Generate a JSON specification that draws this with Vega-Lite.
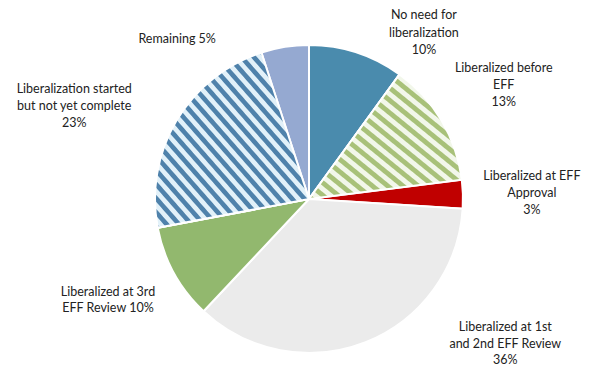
{
  "$schema": "https://vega.github.io/schema/vega-lite/v6.json",
  "width": 562,
  "height": 334,
  "autosize": "none",
  "padding": {"left": 28, "top": 32, "right": 0, "bottom": 0},
  "background": "white",
  "config": {"view": {"stroke": null}},
  "data": {
    "values": [
      {"category": "No need for liberalization", "label": "No need for\nliberalization\n10%", "value": 10, "order": 1},
      {"category": "Liberalized before EFF", "label": "Liberalized before\nEFF\n13%", "value": 13, "order": 2},
      {"category": "Liberalized at EFF Approval", "label": "Liberalized at EFF\nApproval\n3%", "value": 3, "order": 3},
      {"category": "Liberalized at 1st and 2nd EFF Review", "label": "Liberalized at 1st\nand 2nd EFF Review\n36%", "value": 36, "order": 4},
      {"category": "Liberalized at 3rd EFF Review", "label": "Liberalized at 3rd\nEFF Review 10%", "value": 10, "order": 5},
      {"category": "Liberalization started but not yet complete", "label": "Liberalization started\nbut not yet complete\n23%", "value": 23, "order": 6},
      {"category": "Remaining", "label": "Remaining 5%", "value": 5, "order": 7}
    ]
  },
  "transform": [
    {"stack": "value", "groupby": [], "sort": [{"field": "order", "order": "ascending"}], "as": ["s0", "s1"]},
    {"calculate": "(datum.s0 + datum.s1) / 2", "as": "mid"}
  ],
  "layer": [
    {
      "mark": {"type": "arc", "radius": 154, "stroke": "white", "strokeWidth": 2},
      "encoding": {
        "theta": {"field": "s0", "type": "quantitative", "scale": {"domain": [0, 100]}},
        "theta2": {"field": "s1"},
        "color": {
          "field": "category",
          "type": "nominal",
          "legend": null,
          "scale": {
            "domain": ["No need for liberalization", "Liberalized before EFF", "Liberalized at EFF Approval", "Liberalized at 1st and 2nd EFF Review", "Liberalized at 3rd EFF Review", "Liberalization started but not yet complete", "Remaining"],
            "range": ["#4a8bad", "#d3e0b6", "#c00000", "#ebebeb", "#92b86e", "#93b7cf", "#95a9d1"]
          }
        }
      }
    },
    {
      "transform": [{"filter": "datum.order == 2"}],
      "mark": {
        "type": "arc", "radius": 154, "stroke": "white", "strokeWidth": 2,
        "fill": {
          "gradient": "linear", "x1": 0, "y1": 1, "x2": 1, "y2": 0,
          "stops": [
            {"offset": 0, "color": "#a8c179"}, {"offset": 0.02, "color": "#a8c179"}, {"offset": 0.025, "color": "#f2f7ea"}, {"offset": 0.045, "color": "#f2f7ea"},
            {"offset": 0.05, "color": "#a8c179"}, {"offset": 0.07, "color": "#a8c179"}, {"offset": 0.075, "color": "#f2f7ea"}, {"offset": 0.095, "color": "#f2f7ea"},
            {"offset": 0.1, "color": "#a8c179"}, {"offset": 0.12, "color": "#a8c179"}, {"offset": 0.125, "color": "#f2f7ea"}, {"offset": 0.145, "color": "#f2f7ea"},
            {"offset": 0.15, "color": "#a8c179"}, {"offset": 0.17, "color": "#a8c179"}, {"offset": 0.175, "color": "#f2f7ea"}, {"offset": 0.195, "color": "#f2f7ea"},
            {"offset": 0.2, "color": "#a8c179"}, {"offset": 0.22, "color": "#a8c179"}, {"offset": 0.225, "color": "#f2f7ea"}, {"offset": 0.245, "color": "#f2f7ea"},
            {"offset": 0.25, "color": "#a8c179"}, {"offset": 0.27, "color": "#a8c179"}, {"offset": 0.275, "color": "#f2f7ea"}, {"offset": 0.295, "color": "#f2f7ea"},
            {"offset": 0.3, "color": "#a8c179"}, {"offset": 0.32, "color": "#a8c179"}, {"offset": 0.325, "color": "#f2f7ea"}, {"offset": 0.345, "color": "#f2f7ea"},
            {"offset": 0.35, "color": "#a8c179"}, {"offset": 0.37, "color": "#a8c179"}, {"offset": 0.375, "color": "#f2f7ea"}, {"offset": 0.395, "color": "#f2f7ea"},
            {"offset": 0.4, "color": "#a8c179"}, {"offset": 0.42, "color": "#a8c179"}, {"offset": 0.425, "color": "#f2f7ea"}, {"offset": 0.445, "color": "#f2f7ea"},
            {"offset": 0.45, "color": "#a8c179"}, {"offset": 0.47, "color": "#a8c179"}, {"offset": 0.475, "color": "#f2f7ea"}, {"offset": 0.495, "color": "#f2f7ea"},
            {"offset": 0.5, "color": "#a8c179"}, {"offset": 0.52, "color": "#a8c179"}, {"offset": 0.525, "color": "#f2f7ea"}, {"offset": 0.545, "color": "#f2f7ea"},
            {"offset": 0.55, "color": "#a8c179"}, {"offset": 0.57, "color": "#a8c179"}, {"offset": 0.575, "color": "#f2f7ea"}, {"offset": 0.595, "color": "#f2f7ea"},
            {"offset": 0.6, "color": "#a8c179"}, {"offset": 0.62, "color": "#a8c179"}, {"offset": 0.625, "color": "#f2f7ea"}, {"offset": 0.645, "color": "#f2f7ea"},
            {"offset": 0.65, "color": "#a8c179"}, {"offset": 0.67, "color": "#a8c179"}, {"offset": 0.675, "color": "#f2f7ea"}, {"offset": 0.695, "color": "#f2f7ea"},
            {"offset": 0.7, "color": "#a8c179"}, {"offset": 0.72, "color": "#a8c179"}, {"offset": 0.725, "color": "#f2f7ea"}, {"offset": 0.745, "color": "#f2f7ea"},
            {"offset": 0.75, "color": "#a8c179"}, {"offset": 0.77, "color": "#a8c179"}, {"offset": 0.775, "color": "#f2f7ea"}, {"offset": 0.795, "color": "#f2f7ea"},
            {"offset": 0.8, "color": "#a8c179"}, {"offset": 0.82, "color": "#a8c179"}, {"offset": 0.825, "color": "#f2f7ea"}, {"offset": 0.845, "color": "#f2f7ea"},
            {"offset": 0.85, "color": "#a8c179"}, {"offset": 0.87, "color": "#a8c179"}, {"offset": 0.875, "color": "#f2f7ea"}, {"offset": 0.895, "color": "#f2f7ea"},
            {"offset": 0.9, "color": "#a8c179"}, {"offset": 0.92, "color": "#a8c179"}, {"offset": 0.925, "color": "#f2f7ea"}, {"offset": 0.945, "color": "#f2f7ea"},
            {"offset": 0.95, "color": "#a8c179"}, {"offset": 0.97, "color": "#a8c179"}, {"offset": 0.975, "color": "#f2f7ea"}, {"offset": 0.995, "color": "#f2f7ea"},
            {"offset": 1, "color": "#a8c179"}
          ]
        }
      },
      "encoding": {
        "theta": {"field": "s0", "type": "quantitative"},
        "theta2": {"field": "s1"}
      }
    },
    {
      "transform": [{"filter": "datum.order == 6"}],
      "mark": {
        "type": "arc", "radius": 154, "stroke": "white", "strokeWidth": 2,
        "fill": {
          "gradient": "linear", "x1": 0, "y1": 1, "x2": 1, "y2": 0,
          "stops": [
            {"offset": 0, "color": "#4f82ab"}, {"offset": 0.016, "color": "#4f82ab"}, {"offset": 0.02, "color": "#e2f1f9"}, {"offset": 0.036, "color": "#e2f1f9"},
            {"offset": 0.04, "color": "#4f82ab"}, {"offset": 0.056, "color": "#4f82ab"}, {"offset": 0.06, "color": "#e2f1f9"}, {"offset": 0.076, "color": "#e2f1f9"},
            {"offset": 0.08, "color": "#4f82ab"}, {"offset": 0.096, "color": "#4f82ab"}, {"offset": 0.1, "color": "#e2f1f9"}, {"offset": 0.116, "color": "#e2f1f9"},
            {"offset": 0.12, "color": "#4f82ab"}, {"offset": 0.136, "color": "#4f82ab"}, {"offset": 0.14, "color": "#e2f1f9"}, {"offset": 0.156, "color": "#e2f1f9"},
            {"offset": 0.16, "color": "#4f82ab"}, {"offset": 0.176, "color": "#4f82ab"}, {"offset": 0.18, "color": "#e2f1f9"}, {"offset": 0.196, "color": "#e2f1f9"},
            {"offset": 0.2, "color": "#4f82ab"}, {"offset": 0.216, "color": "#4f82ab"}, {"offset": 0.22, "color": "#e2f1f9"}, {"offset": 0.236, "color": "#e2f1f9"},
            {"offset": 0.24, "color": "#4f82ab"}, {"offset": 0.256, "color": "#4f82ab"}, {"offset": 0.26, "color": "#e2f1f9"}, {"offset": 0.276, "color": "#e2f1f9"},
            {"offset": 0.28, "color": "#4f82ab"}, {"offset": 0.296, "color": "#4f82ab"}, {"offset": 0.3, "color": "#e2f1f9"}, {"offset": 0.316, "color": "#e2f1f9"},
            {"offset": 0.32, "color": "#4f82ab"}, {"offset": 0.336, "color": "#4f82ab"}, {"offset": 0.34, "color": "#e2f1f9"}, {"offset": 0.356, "color": "#e2f1f9"},
            {"offset": 0.36, "color": "#4f82ab"}, {"offset": 0.376, "color": "#4f82ab"}, {"offset": 0.38, "color": "#e2f1f9"}, {"offset": 0.396, "color": "#e2f1f9"},
            {"offset": 0.4, "color": "#4f82ab"}, {"offset": 0.416, "color": "#4f82ab"}, {"offset": 0.42, "color": "#e2f1f9"}, {"offset": 0.436, "color": "#e2f1f9"},
            {"offset": 0.44, "color": "#4f82ab"}, {"offset": 0.456, "color": "#4f82ab"}, {"offset": 0.46, "color": "#e2f1f9"}, {"offset": 0.476, "color": "#e2f1f9"},
            {"offset": 0.48, "color": "#4f82ab"}, {"offset": 0.496, "color": "#4f82ab"}, {"offset": 0.5, "color": "#e2f1f9"}, {"offset": 0.516, "color": "#e2f1f9"},
            {"offset": 0.52, "color": "#4f82ab"}, {"offset": 0.536, "color": "#4f82ab"}, {"offset": 0.54, "color": "#e2f1f9"}, {"offset": 0.556, "color": "#e2f1f9"},
            {"offset": 0.56, "color": "#4f82ab"}, {"offset": 0.576, "color": "#4f82ab"}, {"offset": 0.58, "color": "#e2f1f9"}, {"offset": 0.596, "color": "#e2f1f9"},
            {"offset": 0.6, "color": "#4f82ab"}, {"offset": 0.616, "color": "#4f82ab"}, {"offset": 0.62, "color": "#e2f1f9"}, {"offset": 0.636, "color": "#e2f1f9"},
            {"offset": 0.64, "color": "#4f82ab"}, {"offset": 0.656, "color": "#4f82ab"}, {"offset": 0.66, "color": "#e2f1f9"}, {"offset": 0.676, "color": "#e2f1f9"},
            {"offset": 0.68, "color": "#4f82ab"}, {"offset": 0.696, "color": "#4f82ab"}, {"offset": 0.7, "color": "#e2f1f9"}, {"offset": 0.716, "color": "#e2f1f9"},
            {"offset": 0.72, "color": "#4f82ab"}, {"offset": 0.736, "color": "#4f82ab"}, {"offset": 0.74, "color": "#e2f1f9"}, {"offset": 0.756, "color": "#e2f1f9"},
            {"offset": 0.76, "color": "#4f82ab"}, {"offset": 0.776, "color": "#4f82ab"}, {"offset": 0.78, "color": "#e2f1f9"}, {"offset": 0.796, "color": "#e2f1f9"},
            {"offset": 0.8, "color": "#4f82ab"}, {"offset": 0.816, "color": "#4f82ab"}, {"offset": 0.82, "color": "#e2f1f9"}, {"offset": 0.836, "color": "#e2f1f9"},
            {"offset": 0.84, "color": "#4f82ab"}, {"offset": 0.856, "color": "#4f82ab"}, {"offset": 0.86, "color": "#e2f1f9"}, {"offset": 0.876, "color": "#e2f1f9"},
            {"offset": 0.88, "color": "#4f82ab"}, {"offset": 0.896, "color": "#4f82ab"}, {"offset": 0.9, "color": "#e2f1f9"}, {"offset": 0.916, "color": "#e2f1f9"},
            {"offset": 0.92, "color": "#4f82ab"}, {"offset": 0.936, "color": "#4f82ab"}, {"offset": 0.94, "color": "#e2f1f9"}, {"offset": 0.956, "color": "#e2f1f9"},
            {"offset": 0.96, "color": "#4f82ab"}, {"offset": 0.976, "color": "#4f82ab"}, {"offset": 0.98, "color": "#e2f1f9"}, {"offset": 0.996, "color": "#e2f1f9"},
            {"offset": 1, "color": "#4f82ab"}
          ]
        }
      },
      "encoding": {
        "theta": {"field": "s0", "type": "quantitative"},
        "theta2": {"field": "s1"}
      }
    },
    {
      "transform": [{"filter": "datum.order == 1"}],
      "mark": {"type": "text", "radius": 210, "dx": 50, "dy": 16, "lineBreak": "\n", "font": "Lato", "fontSize": 12.5, "lineHeight": 17.5, "align": "center", "baseline": "middle", "color": "#222222"},
      "encoding": {"theta": {"field": "mid", "type": "quantitative"}, "text": {"field": "label"}}
    },
    {
      "transform": [{"filter": "datum.order == 2"}],
      "mark": {"type": "text", "radius": 210, "dx": 14, "dy": -24, "lineBreak": "\n", "font": "Lato", "fontSize": 12.5, "lineHeight": 17, "align": "center", "baseline": "middle", "color": "#222222"},
      "encoding": {"theta": {"field": "mid", "type": "quantitative"}, "text": {"field": "label"}}
    },
    {
      "transform": [{"filter": "datum.order == 3"}],
      "mark": {"type": "text", "radius": 210, "dx": 13, "dy": -16, "lineBreak": "\n", "font": "Lato", "fontSize": 12.5, "lineHeight": 17, "align": "center", "baseline": "middle", "color": "#222222"},
      "encoding": {"theta": {"field": "mid", "type": "quantitative"}, "text": {"field": "label"}}
    },
    {
      "transform": [{"filter": "datum.order == 4"}],
      "mark": {"type": "text", "radius": 210, "dx": 119, "dy": -67, "lineBreak": "\n", "font": "Lato", "fontSize": 12.5, "lineHeight": 16.5, "align": "center", "baseline": "middle", "color": "#222222"},
      "encoding": {"theta": {"field": "mid", "type": "quantitative"}, "text": {"field": "label"}}
    },
    {
      "transform": [{"filter": "datum.order == 5"}],
      "mark": {"type": "text", "radius": 210, "dx": -17, "dy": -8, "lineBreak": "\n", "font": "Lato", "fontSize": 12.5, "lineHeight": 16, "align": "center", "baseline": "middle", "color": "#222222"},
      "encoding": {"theta": {"field": "mid", "type": "quantitative"}, "text": {"field": "label"}}
    },
    {
      "transform": [{"filter": "datum.order == 6"}],
      "mark": {"type": "text", "radius": 210, "dx": -54, "dy": -3, "lineBreak": "\n", "font": "Lato", "fontSize": 12.5, "lineHeight": 17, "align": "center", "baseline": "middle", "color": "#222222"},
      "encoding": {"theta": {"field": "mid", "type": "quantitative"}, "text": {"field": "label"}}
    },
    {
      "transform": [{"filter": "datum.order == 7"}],
      "mark": {"type": "text", "radius": 210, "dx": -99, "dy": 47, "lineBreak": "\n", "font": "Lato", "fontSize": 12.5, "lineHeight": 17, "align": "center", "baseline": "middle", "color": "#222222"},
      "encoding": {"theta": {"field": "mid", "type": "quantitative"}, "text": {"field": "label"}}
    }
  ]
}
